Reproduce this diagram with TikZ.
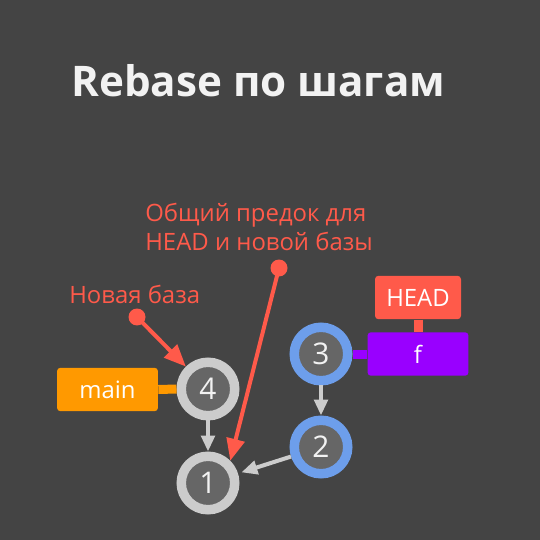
\documentclass[tikz,border=0pt]{standalone}
\usepackage{fontspec}
\setmainfont{Open Sans}
\usepackage{tikz}
\usetikzlibrary{arrows.meta,positioning}
\usepackage{xcolor}

\definecolor{bg}{HTML}{444444}
\definecolor{commitfill}{HTML}{666666}
\definecolor{ringgray}{HTML}{CCCCCC}
\definecolor{ringblue}{HTML}{6D9EEB}
\definecolor{hintred}{HTML}{FF5A4A}
\definecolor{mainorange}{HTML}{FF9900}
\definecolor{branchpurple}{HTML}{9900FF}
\definecolor{titlewhite}{HTML}{F2F2F2}

\begin{document}
\begin{tikzpicture}[
  x=0.02cm, y=-0.02cm,
  commit/.style={circle, draw=ringgray, line width=0.19cm, fill=commitfill,
                 minimum size=1.07cm, inner sep=0pt, text=titlewhite,
                 font=\fontsize{17}{20}\selectfont},
  moved/.style={commit, draw=ringblue},
  ref/.style={rounded corners=2pt, minimum width=2.02cm, minimum height=0.87cm,
              inner sep=0pt, text=white, font=\fontsize{13.6}{16}\selectfont},
  link/.style={line width=0.18cm},
  parent/.style={draw=ringgray, line width=0.08cm,
                 -{Triangle[length=0.32cm, width=0.27cm]}},
  hint/.style={text=hintred, font=\fontsize{13.6}{17}\selectfont, inner sep=0pt},
  pointer/.style={draw=hintred, line width=0.08cm,
                  -{Triangle[length=0.44cm, width=0.36cm]}},
  dot/.style={circle, fill=hintred, minimum size=0.34cm, inner sep=0pt}
]
\fill[bg] (0,0) rectangle (540,540);
\useasboundingbox (0,0) rectangle (540,540);

\node[anchor=base west, inner sep=0pt, text=titlewhite,
      font=\fontsize{24}{29}\selectfont\bfseries] (title) at (71,97) {Rebase по шагам};

% commits
\node[commit] (c4) at (208,389) {4};
\node[commit] (c1) at (208,483) {1};
\node[moved]  (c3) at (321,354) {3};
\node[moved]  (c2) at (321,447) {2};

% refs
\node[ref, fill=mainorange] (main) at (107.5,389.5) {main};
\node[ref, fill=branchpurple] (f) at (418,354) {f};
\node[ref, fill=hintred, minimum width=1.72cm] (head) at (418,297.5) {HEAD};

\draw[link, mainorange] (main.east) -- (c4.west);
\draw[link, branchpurple] (c3.east) -- (f.west);
\draw[link, hintred] (head.south) -- (f.north);

\draw[parent] (c4) -- (c1);
\draw[parent] (c3) -- (c2);
\draw[parent, shorten >=2pt] (c2) -- (c1);

% hints
\node[hint, anchor=base west] (newbase) at (69,303) {Новая база};
\node[hint, anchor=base west, align=left] (ancestor) at (145,251)
  {Общий предок для\\HEAD и новой базы};

\node[dot] (d1) at (137,317) {};
\node[dot] (d2) at (279,268) {};

\draw[pointer] (d1.center) -- (c4);
\draw[pointer] (d2.center) -- (c1.45);
\end{tikzpicture}
\end{document}
